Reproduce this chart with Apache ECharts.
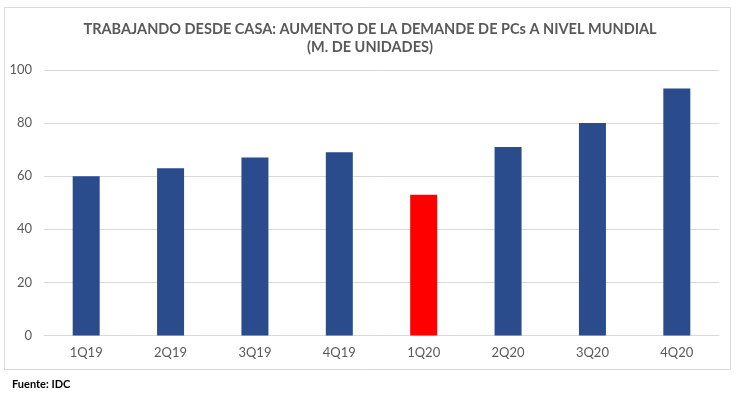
<!DOCTYPE html>
<html><head><meta charset="utf-8">
<script src="https://cdn.jsdelivr.net/npm/echarts@6/dist/echarts.min.js"></script>
<style>html,body{margin:0;padding:0;background:#fff;}#c{width:738px;height:395px;}</style>
</head><body><div id="c"></div>
<script>
const categories = ['1Q19','2Q19','3Q19','4Q19','1Q20','2Q20','3Q20','4Q20'];
const values = [60, 63, 67, 69, 53, 71, 80, 93];
const highlightCategory = '1Q20';
const yTicks = { min: 0, max: 100, interval: 20 };
const titleText = 'TRABAJANDO DESDE CASA: AUMENTO DE LA DEMANDE DE PCs A NIVEL MUNDIAL\n(M. DE UNIDADES)';
const sourceText = 'Fuente: IDC';

const chart = echarts.init(document.getElementById('c'), null, {renderer: 'canvas'});
const FONT = 'Lato, "Open Sans", sans-serif';
chart.setOption({
  animation: false,
  backgroundColor: '#fff',
  title: {
    text: titleText,
    left: 365, top: 15, textAlign: 'center',
    textStyle: { fontFamily: FONT, fontWeight: 'bold', fontSize: 14.5, color: '#595959', lineHeight: 18 }
  },
  graphic: [
    { type: 'rect', shape: { x: 4.5, y: 7.5, width: 726, height: 362 }, style: { fill: 'none', stroke: '#d9d9d9', lineWidth: 1 }, z: -1 },
    { type: 'text', left: 12, top: 379, style: { text: sourceText, fontFamily: FONT, fontWeight: 'bold', fontSize: 11, fill: '#000' } }
  ],
  grid: { left: 44, right: 19, top: 70, bottom: 59.5, containLabel: false },
  xAxis: {
    type: 'category', data: categories,
    axisLine: { show: true, lineStyle: { color: '#d9d9d9' } },
    axisTick: { show: false },
    axisLabel: { fontFamily: FONT, fontSize: 13, color: '#595959', margin: 11 }
  },
  yAxis: {
    type: 'value', min: yTicks.min, max: yTicks.max, interval: yTicks.interval,
    axisLine: { show: false }, axisTick: { show: false },
    splitLine: { lineStyle: { color: '#d9d9d9' } },
    axisLabel: { fontFamily: FONT, fontSize: 13, color: '#595959', margin: 12 }
  },
  series: [{
    type: 'bar', barWidth: 27,
    data: values.map((v, i) => ({ value: v, itemStyle: { color: categories[i] === highlightCategory ? '#ff0000' : '#2a4b8c' } }))
  }]
});
</script></body></html>
